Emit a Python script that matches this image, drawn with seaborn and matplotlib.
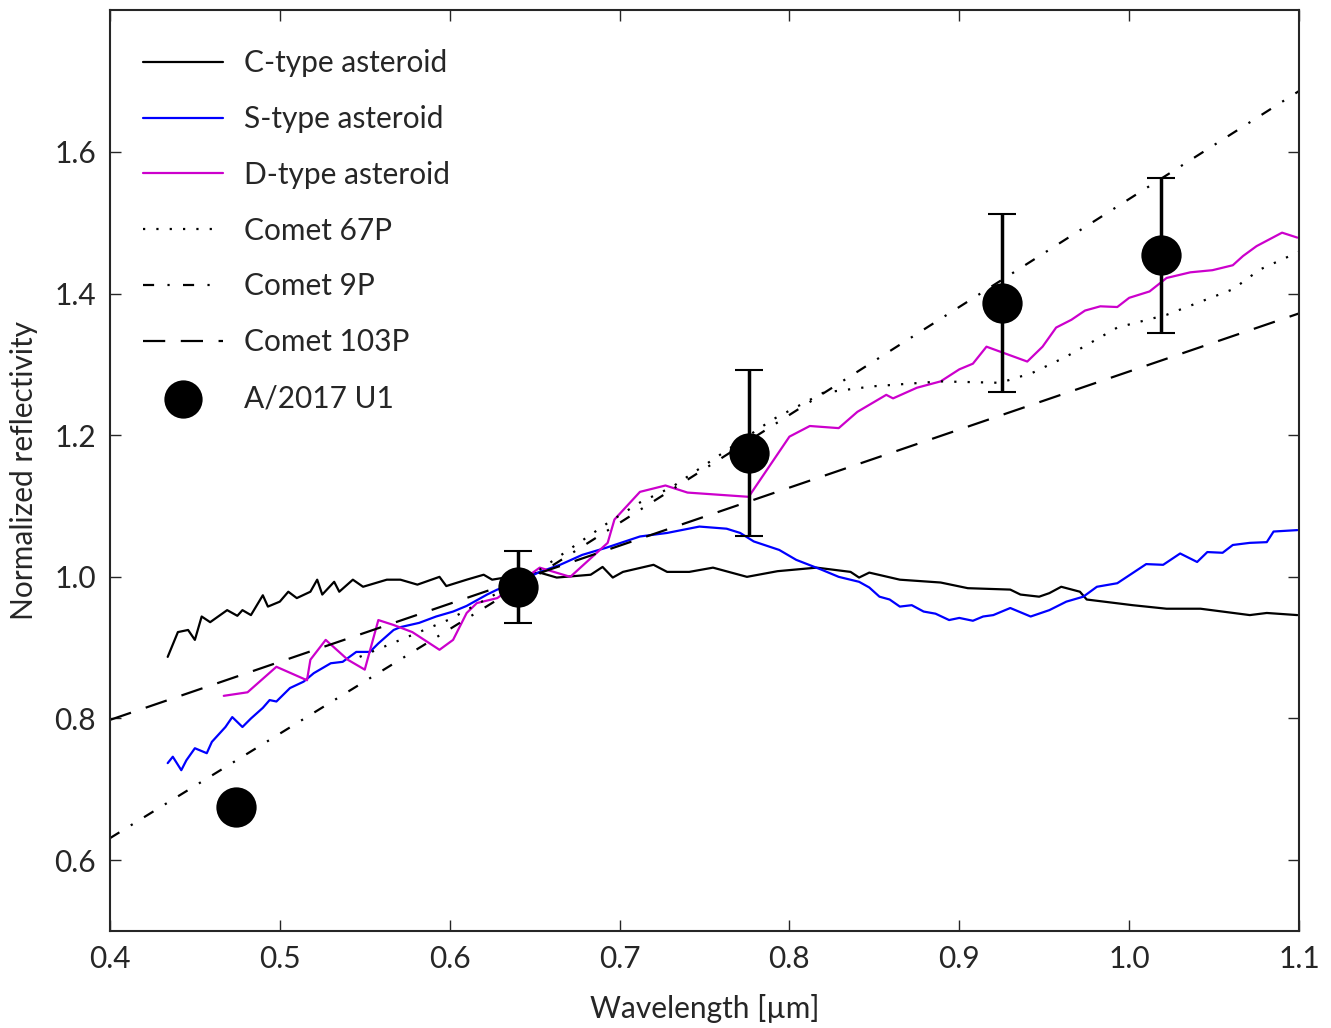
import numpy as np
import pandas as pd
import matplotlib
matplotlib.use("Agg")
import matplotlib.pyplot as plt
import seaborn as sns

# C-type asteroid spectrum
c_wl = [0.434, 0.440, 0.446, 0.450, 0.454, 0.459, 0.469, 0.475, 0.478, 0.483, 0.490, 0.493,
        0.500, 0.505, 0.510, 0.518, 0.522, 0.525, 0.532, 0.535, 0.543, 0.549, 0.563, 0.571,
        0.581, 0.594, 0.598, 0.610, 0.620, 0.625, 0.640, 0.653, 0.663, 0.683, 0.690, 0.696,
        0.702, 0.720, 0.728, 0.741, 0.755, 0.775, 0.793, 0.816, 0.836, 0.841, 0.847, 0.865,
        0.889, 0.905, 0.930, 0.936, 0.947, 0.953, 0.960, 0.971, 0.975, 1.002, 1.022, 1.042,
        1.071, 1.081, 1.099]
c_refl = [0.887, 0.922, 0.925, 0.911, 0.944, 0.936, 0.953, 0.945, 0.953, 0.946, 0.974, 0.958,
          0.965, 0.979, 0.970, 0.979, 0.996, 0.975, 0.993, 0.979, 0.996, 0.986, 0.996, 0.996,
          0.989, 1.000, 0.987, 0.996, 1.003, 0.996, 1.002, 1.006, 0.999, 1.003, 1.014, 0.999,
          1.007, 1.017, 1.007, 1.007, 1.013, 1.000, 1.008, 1.013, 1.007, 0.999, 1.006, 0.996,
          0.992, 0.984, 0.982, 0.975, 0.972, 0.977, 0.986, 0.979, 0.968, 0.960, 0.955, 0.955,
          0.946, 0.949, 0.946]

# S-type asteroid spectrum
s_wl = [0.434, 0.437, 0.442, 0.445, 0.450, 0.457, 0.460, 0.468, 0.472, 0.478, 0.483, 0.490,
        0.494, 0.498, 0.506, 0.514, 0.520, 0.530, 0.537, 0.545, 0.553, 0.558, 0.567, 0.571,
        0.582, 0.592, 0.602, 0.610, 0.622, 0.628, 0.640, 0.653, 0.665, 0.678, 0.692, 0.712,
        0.728, 0.747, 0.763, 0.771, 0.779, 0.794, 0.804, 0.819, 0.829, 0.841, 0.847, 0.853,
        0.859, 0.865, 0.872, 0.879, 0.886, 0.894, 0.900, 0.908, 0.914, 0.920, 0.930, 0.942,
        0.953, 0.963, 0.973, 0.981, 0.993, 1.010, 1.020, 1.030, 1.040, 1.046, 1.055, 1.061,
        1.071, 1.081, 1.085, 1.099]
s_refl = [0.737, 0.746, 0.727, 0.741, 0.758, 0.751, 0.767, 0.788, 0.802, 0.788, 0.800, 0.815,
          0.826, 0.824, 0.843, 0.852, 0.864, 0.878, 0.880, 0.894, 0.894, 0.906, 0.925, 0.929,
          0.935, 0.944, 0.951, 0.959, 0.975, 0.982, 0.992, 1.007, 1.017, 1.031, 1.041, 1.057,
          1.062, 1.071, 1.068, 1.062, 1.050, 1.038, 1.024, 1.010, 1.000, 0.993, 0.985, 0.972,
          0.968, 0.958, 0.960, 0.951, 0.948, 0.939, 0.942, 0.938, 0.944, 0.946, 0.956, 0.944,
          0.953, 0.965, 0.972, 0.986, 0.991, 1.018, 1.017, 1.033, 1.021, 1.035, 1.034, 1.045,
          1.048, 1.049, 1.064, 1.066]

# D-type asteroid spectrum
d_wl = [0.467, 0.481, 0.498, 0.516, 0.518, 0.527, 0.540, 0.550, 0.558, 0.567, 0.578, 0.594,
        0.602, 0.610, 0.616, 0.628, 0.653, 0.671, 0.693, 0.697, 0.712, 0.727, 0.740, 0.776,
        0.800, 0.812, 0.829, 0.840, 0.857, 0.861, 0.875, 0.889, 0.900, 0.908, 0.916, 0.940,
        0.949, 0.957, 0.966, 0.974, 0.983, 0.993, 1.000, 1.012, 1.022, 1.036, 1.049, 1.061,
        1.067, 1.075, 1.090, 1.099]
d_refl = [0.832, 0.837, 0.873, 0.854, 0.883, 0.911, 0.883, 0.869, 0.939, 0.932, 0.922, 0.897,
          0.911, 0.949, 0.963, 0.970, 1.013, 1.000, 1.048, 1.081, 1.120, 1.129, 1.119, 1.113,
          1.198, 1.213, 1.210, 1.233, 1.257, 1.252, 1.267, 1.276, 1.293, 1.301, 1.325, 1.304,
          1.325, 1.352, 1.363, 1.376, 1.382, 1.381, 1.394, 1.403, 1.422, 1.430, 1.433, 1.440,
          1.453, 1.467, 1.486, 1.479]

# Comet 67P
p67_wl = [0.547, 0.600, 0.653, 0.693, 0.712, 0.731, 0.790, 0.820, 0.849, 0.889, 0.924, 0.943,
          0.963, 0.993, 1.022, 1.061, 1.077, 1.100]
p67_refl = [0.887, 0.940, 1.010, 1.076, 1.105, 1.127, 1.222, 1.260, 1.269, 1.276, 1.274, 1.288,
            1.311, 1.352, 1.370, 1.406, 1.434, 1.459]

# Comet 9P
p9_wl = [0.40, 0.65, 1.10]
p9_refl = [0.631, 1.000, 1.686]

# Comet 103P
p103_wl = [0.40, 1.10]
p103_refl = [0.798, 1.372]

# A/2017 U1 photometry
u1_wl = [0.474, 0.640, 0.776, 0.925, 1.019]
u1_refl = [0.675, 0.986, 1.175, 1.387, 1.454]
u1_err = [0.0, 0.051, 0.117, 0.126, 0.109]

sns.set_style("ticks")
plt.rcParams["font.family"] = ["Lato", "DejaVu Sans"]
fs = 21.5
plt.rcParams["font.size"] = fs

fig = plt.figure(figsize=(13.31, 10.28), dpi=100)
ax = fig.add_axes([0.0826, 0.0944, 0.8934, 0.8956])

lw = 1.6
sns.lineplot(x=c_wl, y=c_refl, color="black", lw=lw, sort=False, estimator=None,
             label="C-type asteroid", ax=ax)
sns.lineplot(x=s_wl, y=s_refl, color="#0000ff", lw=lw, sort=False, estimator=None,
             label="S-type asteroid", ax=ax)
sns.lineplot(x=d_wl, y=d_refl, color="#cc00cc", lw=lw, sort=False, estimator=None,
             label="D-type asteroid", ax=ax)
l67 = sns.lineplot(x=p67_wl, y=p67_refl, color="black", lw=lw, sort=False, estimator=None,
                   label="Comet 67P", ax=ax).lines[-1]
l67.set_dashes((1, 5))
l9 = sns.lineplot(x=p9_wl, y=p9_refl, color="black", lw=lw, sort=False, estimator=None,
                  label="Comet 9P", ax=ax).lines[-1]
l9.set_dashes((5, 6, 1, 6))
l103 = sns.lineplot(x=p103_wl, y=p103_refl, color="black", lw=lw, sort=False, estimator=None,
                    label="Comet 103P", ax=ax).lines[-1]
l103.set_dashes((10, 7))

ax.errorbar(u1_wl, u1_refl, yerr=u1_err, fmt="none", ecolor="black", elinewidth=2.5,
            capsize=10, capthick=1.5, zorder=4)
sns.scatterplot(x=u1_wl, y=u1_refl, color="black", s=29**2, linewidth=0,
                label="A/2017 U1", ax=ax, zorder=5)

ax.set_xlim(0.4, 1.1)
ax.set_ylim(0.5, 1.8)
ax.set_xticks(np.arange(0.4, 1.101, 0.1))
ax.set_yticks(np.arange(0.6, 1.601, 0.2))
ax.set_xticklabels(["0.4", "0.5", "0.6", "0.7", "0.8", "0.9", "1.0", "1.1"])
ax.set_yticklabels(["0.6", "0.8", "1.0", "1.2", "1.4", "1.6"])
ax.tick_params(direction="in", length=8, width=1, top=True, right=True, labelsize=fs, pad=10)
for sp in ax.spines.values():
    sp.set_linewidth(1.5)
ax.set_xlabel("Wavelength [µm]", fontsize=fs, labelpad=15)
ax.set_ylabel("Normalized reflectivity", fontsize=fs, labelpad=12)

leg = ax.legend(loc="upper left", bbox_to_anchor=(0.0227, 0.964), borderaxespad=0,
                borderpad=0.2, frameon=False, handlelength=2.68, handletextpad=0.7,
                labelspacing=0.93, markerscale=0.95)

plt.savefig("out.png", dpi=100)
plt.close()
